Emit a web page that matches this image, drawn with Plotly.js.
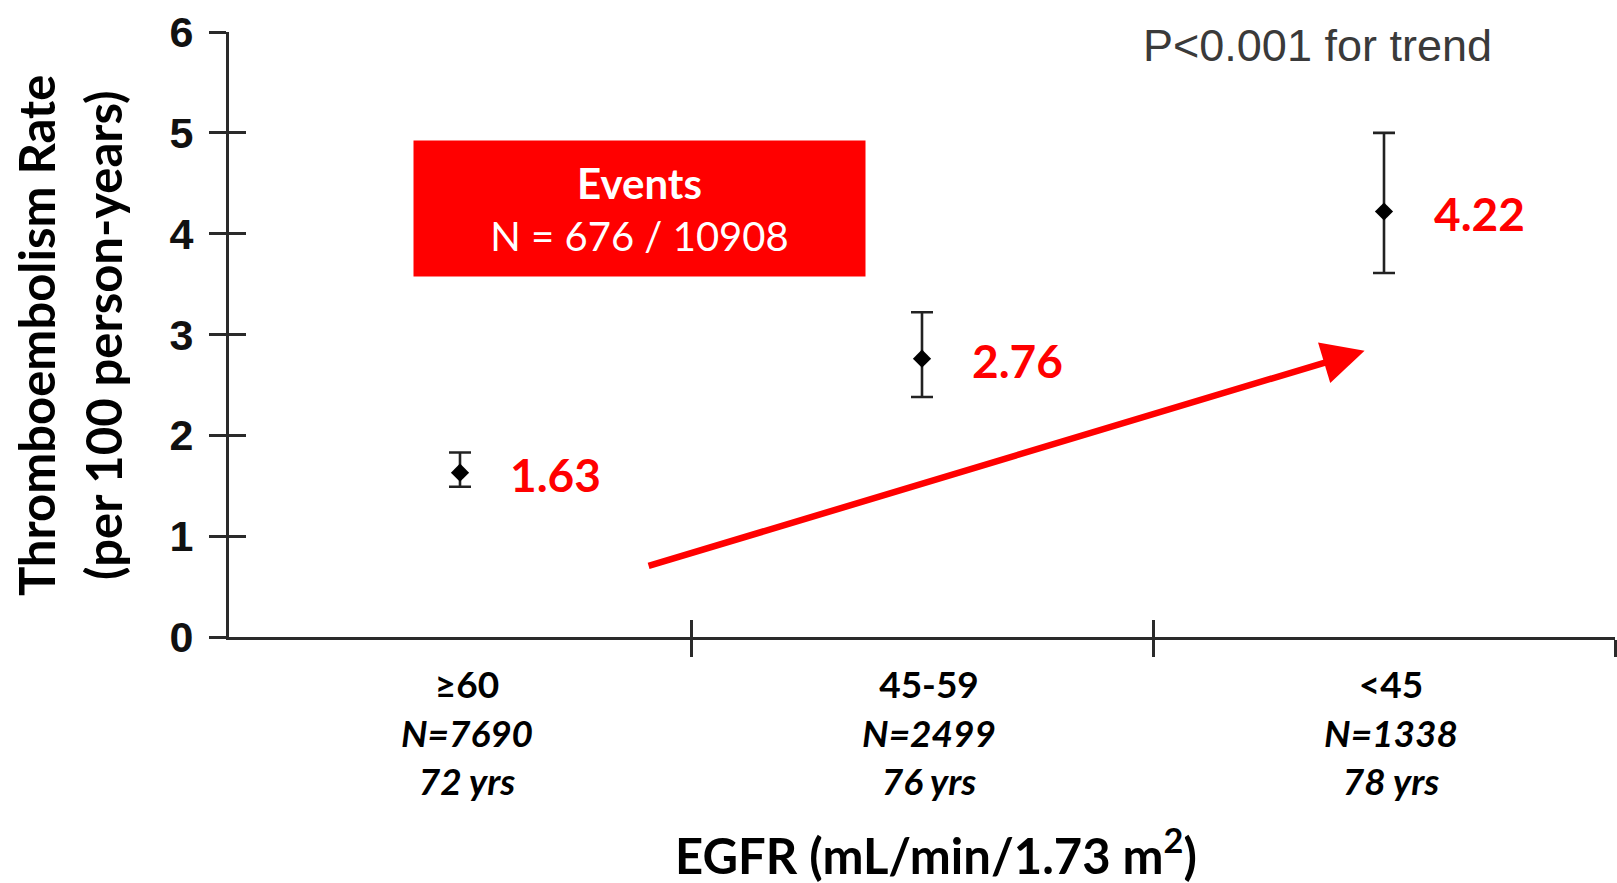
<!DOCTYPE html>
<html>
<head>
<meta charset="utf-8">
<script src="https://cdn.plot.ly/plotly-3.0.1.min.js"></script>
<style>
html,body{margin:0;padding:0;background:#fff;}
#chart{width:1617px;height:883px;}
</style>
</head>
<body>
<div id="chart"></div>
<script>
// ---- data ----
const groups = ["≥60", "45-59", "<45"];
const groupN = ["N=7690", "N=2499", "N=1338"];
const groupAge = ["72 yrs", "76 yrs", "78 yrs"];
const rates = [1.63, 2.76, 4.22];
const upperCI = [1.83, 3.22, 5.00];
const lowerCI = [1.49, 2.38, 3.61];
const yTicks = [0, 1, 2, 3, 4, 5, 6];
const eventsText = "N = 676 / 10908";
const trendText = "P<0.001 for trend";

const xIdx = groups.map((g, i) => i);
const tickText = groups.map((g, i) =>
  "<b>" + g + "</b><br><b><i>" + groupN[i] + "</i></b><br><b><i>" + groupAge[i] + "</i></b>");

const trace = {
  type: "scatter",
  mode: "markers",
  x: xIdx,
  y: rates,
  marker: {symbol: "diamond", size: 14, color: "#000"},
  error_y: {
    type: "data", symmetric: false,
    array: upperCI.map((u, i) => u - rates[i]),
    arrayminus: lowerCI.map((l, i) => rates[i] - l),
    color: "#222", thickness: 2.6, width: 11
  },
  hoverinfo: "skip",
  showlegend: false
};

const annotations = rates.map((r, i) => ({
  x: i, y: r, xref: "x", yref: "y",
  text: "<b>" + r.toFixed(2) + "</b>",
  showarrow: false, xanchor: "left", yanchor: "middle",
  xshift: 48, yshift: -2,
  font: {family: "Lato", size: 46, color: "#ff0000"}
}));

annotations.push({
  xref: "paper", yref: "paper", x: 0.2965, y: 0.7087,
  text: "<b><span style='font-size:42px'>Events</span></b><br>" + eventsText,
  showarrow: false, xanchor: "center", yanchor: "middle",
  width: 451, height: 135, bgcolor: "#ff0000", borderpad: 0,
  font: {family: "Lato", size: 40, color: "#ffffff"}
});

annotations.push({
  xref: "paper", yref: "paper", x: 0.785, y: 0.977,
  text: trendText, showarrow: false, xanchor: "center", yanchor: "middle",
  font: {family: "Liberation Sans, Arial", size: 45, color: "#3a3a3a"}
});

// trend arrow
annotations.push({
  xref: "x", yref: "y", axref: "x", ayref: "y",
  x: 1.958, y: 2.84, ax: 0.405, ay: 0.70,
  text: "", showarrow: true, arrowhead: 2, arrowsize: 1.3, arrowwidth: 6.5,
  arrowcolor: "#ff0000", standoff: 0, startstandoff: 0
});

// axis titles
annotations.push({
  xref: "paper", yref: "paper", x: (36 - 229) / 1386, y: 0.499,
  text: "<b>Thromboembolism Rate</b>", textangle: -90, showarrow: false,
  xanchor: "center", yanchor: "middle",
  font: {family: "Lato", size: 49, color: "#000"}
});
annotations.push({
  xref: "paper", yref: "paper", x: (103 - 229) / 1386, y: 0.499,
  text: "<b>(per 100 person-years)</b>", textangle: -90, showarrow: false,
  xanchor: "center", yanchor: "middle",
  font: {family: "Lato", size: 49, color: "#000"}
});
annotations.push({
  xref: "paper", yref: "paper", x: 0.51, y: -0.355,
  text: "<b>EGFR (mL/min/1.73 m<sup>2</sup>)</b>", showarrow: false,
  xanchor: "center", yanchor: "middle",
  font: {family: "Lato", size: 49, color: "#000"}
});

const axisColor = "#2a2a2a";
const layout = {
  width: 1617, height: 883,
  margin: {l: 229, r: 2, t: 32, b: 246},
  paper_bgcolor: "#fff", plot_bgcolor: "#fff",
  xaxis: {
    range: [-0.5, 2.5], showgrid: false, zeroline: false,
    showline: true, linecolor: axisColor, linewidth: 3,
    tickvals: xIdx, ticktext: tickText, ticks: "",
    ticklabelstandoff: 14, ticklabelshift: 7,
    tickfont: {family: "Lato", size: 37, color: "#000"},
    minor: {tickvals: [0.5, 1.5, 2.5], ticks: "outside", ticklen: 17, tickwidth: 3, tickcolor: axisColor},
    fixedrange: true
  },
  xaxis2: {
    overlaying: "x", range: [-0.5, 2.5], showgrid: false, zeroline: false,
    tickvals: [0.5, 1.5, 2.5], ticks: "inside", ticklen: 17, tickwidth: 3, tickcolor: axisColor,
    showticklabels: false, showline: false
  },
  yaxis: {
    range: [0, 6], showgrid: false, zeroline: false,
    showline: true, linecolor: axisColor, linewidth: 3,
    tickvals: yTicks, ticks: "outside", ticklen: 17, tickwidth: 3, tickcolor: axisColor,
    ticklabelstandoff: 7,
    tickfont: {family: "Liberation Sans, Arial", size: 43, color: "#111", weight: "bold"},
    fixedrange: true
  },
  yaxis2: {
    overlaying: "y", range: [0, 6], showgrid: false, zeroline: false,
    tickvals: yTicks, ticks: "inside", ticklen: 17, tickwidth: 3, tickcolor: axisColor,
    showticklabels: false, showline: false
  },
  annotations: annotations
};

// invisible helper trace so the overlay axes (for the inward half of the crossing ticks) are drawn
const helper = {type: "scatter", mode: "markers", x: [0], y: [0], xaxis: "x2", yaxis: "y2",
  marker: {opacity: 0}, hoverinfo: "skip", showlegend: false};

Plotly.newPlot("chart", [trace, helper], layout, {displayModeBar: false, staticPlot: true});
</script>
</body>
</html>
